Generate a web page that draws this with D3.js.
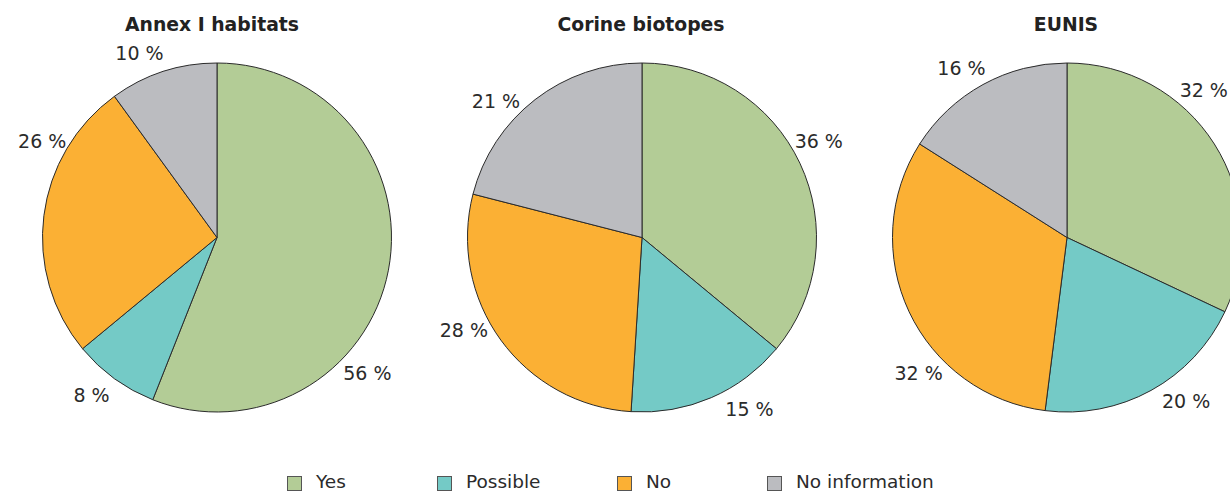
<!DOCTYPE html>
<html><head><meta charset="utf-8">
<script src="https://cdn.jsdelivr.net/npm/d3@7/dist/d3.min.js"></script>
<style>
html,body{margin:0;padding:0;background:#fff;}
svg{display:block;font-family:"DejaVu Sans",Verdana,sans-serif;}
</style></head>
<body>
<svg id="chart" width="1230" height="491"></svg>
<script>
// ---- data ----
const categories = ["Yes", "Possible", "No", "No information"];
const chartTitles = ["Annex I habitats", "Corine biotopes", "EUNIS"];
const annexValues  = [56, 8, 26, 10];
const corineValues = [36, 15, 28, 21];
const eunisValues  = [32, 20, 32, 16];
const seriesValues = [annexValues, corineValues, eunisValues];

// ---- layout / style ----
const colors = ["#b3cc96", "#74cac6", "#fbb034", "#bbbcc0"];
const centersX = [217, 642, 1067];
const centerY = 237.5;
const radius = 174.5;
const labelRadius = 201;
// label placement angles (degrees clockwise from 12 o'clock) as laid out in the reference
const labelAngles = [[132, 219, 299, 337], [61, 148, 243, 313], [42.5, 144, 228, 328]];
const legendX = [287, 437, 617, 767];

const svg = d3.select("#chart");
const pie = d3.pie().sort(null).value(d => d);
const arc = d3.arc().innerRadius(0).outerRadius(radius);

seriesValues.forEach((vals, ci) => {
  const g = svg.append("g").attr("transform", `translate(${centersX[ci]},${centerY})`);
  g.selectAll("path").data(pie(vals)).join("path")
    .attr("d", arc)
    .attr("fill", (d, i) => colors[i])
    .attr("stroke", "#2b2b2b")
    .attr("stroke-width", 1)
    .attr("stroke-linejoin", "round");
  g.selectAll("text.lbl").data(pie(vals)).join("text")
    .attr("class", "lbl")
    .attr("x", (d, i) => labelRadius * Math.sin(labelAngles[ci][i] * Math.PI / 180) + 1)
    .attr("y", (d, i) => -labelRadius * Math.cos(labelAngles[ci][i] * Math.PI / 180) + 1)
    .attr("text-anchor", "middle")
    .attr("dominant-baseline", "central")
    .attr("font-size", 19)
    .attr("fill", "#2b2b2b")
    .text(d => d.data + " %");
  svg.append("text")
    .attr("x", centersX[ci] - 5 + (ci === 0 ? 0 : 4))
    .attr("y", 31)
    .attr("text-anchor", "middle")
    .attr("font-size", 18.8)
    .attr("font-weight", "bold")
    .attr("fill", "#222")
    .text(chartTitles[ci]);
});

const lg = svg.append("g");
categories.forEach((c, i) => {
  lg.append("rect")
    .attr("x", legendX[i] + 0.5).attr("y", 476.5)
    .attr("width", 14).attr("height", 14)
    .attr("fill", colors[i]).attr("stroke", "#555").attr("stroke-width", 1);
  lg.append("text")
    .attr("x", legendX[i] + 29).attr("y", 488)
    .attr("font-size", 18.5).attr("fill", "#2b2b2b")
    .text(c);
});
</script>
</body></html>
